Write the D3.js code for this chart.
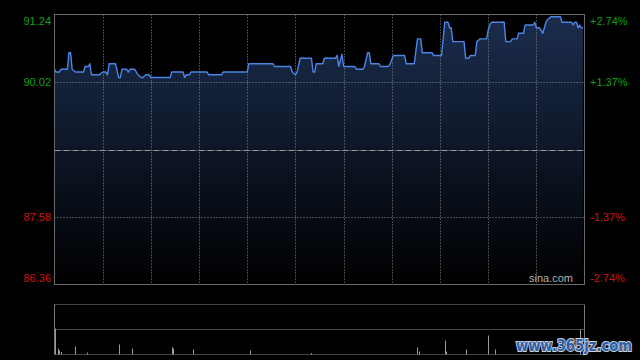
<!DOCTYPE html>
<html>
<head>
<meta charset="utf-8">
<script src="https://cdn.jsdelivr.net/npm/d3@7"></script>
<style>
  body { margin: 0; background: #000; }
  svg { display: block; font-family: 'Liberation Sans', Arial, sans-serif; }
</style>
</head>
<body>
<svg id="minute-chart" width="640" height="360"></svg>
<script>
// price axis: previous close in the middle, +-2.74% at the edges
const priceTicks = [91.24, 90.02, 88.8, 87.58, 86.36];
const priceLabels = ['91.24', '90.02', '', '87.58', '86.36'];
const pctLabels = ['+2.74%', '+1.37%', '', '-1.37%', '-2.74%'];
const prevClose = 88.8;

// minutes after open (lunch removed, 330 = close) and last price
const minutes = [0, 1, 3, 4, 8, 9, 10, 11, 13, 18, 19, 21, 22, 23, 28, 30, 32, 33, 34, 38,
  40, 41, 42, 45, 46, 47, 50, 52, 54, 55, 57, 59, 60, 72, 73, 80, 81, 82, 84, 85,
  95, 96, 104, 105, 120, 121, 136, 137, 147, 148, 150, 151, 153, 160, 161, 162, 163, 167, 168, 175,
  176, 177, 179, 180, 187, 188, 192, 193, 195, 196, 197, 202, 203, 208, 209, 211, 218, 219, 224, 226,
  228, 229, 235, 236, 241, 243, 245, 246, 247, 248, 255, 256, 258, 259, 262, 263, 265, 269, 270, 271,
  272, 280, 281, 284, 285, 288, 289, 292, 293, 298, 299, 300, 302, 304, 306, 307, 309, 315, 316, 322,
  323, 324, 325, 326, 327, 328, 329];
const prices = [90.25, 90.2, 90.2, 90.25, 90.25, 90.55, 90.55, 90.25, 90.2, 90.2, 90.3, 90.3, 90.35, 90.15, 90.15, 90.2, 90.2, 90.15, 90.35, 90.35,
  90.1, 90.1, 90.25, 90.25, 90.2, 90.25, 90.25, 90.15, 90.1, 90.1, 90.15, 90.15, 90.1, 90.1, 90.2, 90.2, 90.1, 90.15, 90.15, 90.2,
  90.2, 90.15, 90.15, 90.2, 90.2, 90.35, 90.35, 90.3, 90.3, 90.2, 90.15, 90.2, 90.45, 90.45, 90.2, 90.2, 90.35, 90.35, 90.45, 90.45,
  90.5, 90.3, 90.52, 90.3, 90.3, 90.25, 90.25, 90.3, 90.55, 90.55, 90.35, 90.35, 90.3, 90.3, 90.35, 90.5, 90.5, 90.35, 90.35, 90.8,
  90.8, 90.55, 90.55, 90.5, 90.5, 91.1, 91.1, 91.0, 91.0, 90.75, 90.75, 90.45, 90.45, 90.5, 90.5, 90.75, 90.8, 90.8, 90.95, 91.05,
  91.1, 91.1, 90.75, 90.75, 90.8, 90.8, 90.9, 90.9, 91.05, 91.05, 91.1, 91.0, 91.0, 90.9, 91.1, 91.15, 91.2, 91.2, 91.1, 91.1,
  91.05, 91.1, 91.1, 91.0, 91.05, 91.0, 91.0];

// volume (only the visible bars)
const volMinutes = [0, 2, 3, 4, 13, 20, 40, 48, 73, 74, 86, 122, 160, 226, 227, 243, 244, 256, 270, 274, 327];
const volValues = [52, 12, 8, 5, 16, 4, 20, 12, 14, 12, 10, 8, 3, 14, 6, 28, 6, 10, 38, 10, 50];
const volTop = 100;

const svg = d3.select('#minute-chart');
const plotLeft = 54.5, plotRight = 584.5;
const plotTop = 14.5, plotBottom = 284.5;
const volY0 = 304.5, volY1 = 354.5;

const x = d3.scaleLinear().domain([0, 330]).range([plotLeft, plotRight]);
const y = d3.scaleLinear().domain([priceTicks[4], priceTicks[0]]).range([plotBottom, plotTop]);
const yVol = d3.scaleLinear().domain([0, volTop]).range([volY1, volY0]);

const green = '#12a012';
const red = '#d01414';
const gridColor = '#8a8a8a';

const defs = svg.append('defs');
const grad = defs.append('linearGradient')
  .attr('id', 'area-fill')
  .attr('gradientUnits', 'userSpaceOnUse')
  .attr('x1', 0).attr('y1', plotTop).attr('x2', 0).attr('y2', plotBottom);
grad.append('stop').attr('offset', 0).attr('stop-color', '#1b2d4e');
grad.append('stop').attr('offset', 1).attr('stop-color', '#000');

// area under the price line
const area = d3.area()
  .x((d, i) => x(minutes[i]))
  .y0(plotBottom)
  .y1((d) => y(d));
svg.append('path')
  .attr('d', area(prices))
  .attr('fill', 'url(#area-fill)');

// grid
const halfHours = d3.range(30, 330, 30);
svg.append('g')
  .selectAll('line')
  .data(halfHours)
  .join('line')
  .attr('x1', (d) => Math.round(x(d)) + 0.5)
  .attr('x2', (d) => Math.round(x(d)) + 0.5)
  .attr('y1', plotTop)
  .attr('y2', plotBottom)
  .attr('stroke', gridColor)
  .attr('stroke-dasharray', '1,2');

svg.append('g')
  .selectAll('line')
  .data([priceTicks[1], priceTicks[3]])
  .join('line')
  .attr('x1', plotLeft)
  .attr('x2', plotRight)
  .attr('y1', (d) => Math.round(y(d)) + 0.5)
  .attr('y2', (d) => Math.round(y(d)) + 0.5)
  .attr('stroke', gridColor)
  .attr('stroke-dasharray', '1,2');

svg.append('line')
  .attr('x1', plotLeft)
  .attr('x2', plotRight)
  .attr('y1', Math.round(y(prevClose)) + 0.5)
  .attr('y2', Math.round(y(prevClose)) + 0.5)
  .attr('stroke', '#9a9a9a')
  .attr('stroke-dasharray', '6,1,1,1');

// price line
const line = d3.line()
  .x((d, i) => x(minutes[i]))
  .y((d) => y(d));
svg.append('path')
  .attr('d', line(prices))
  .attr('fill', 'none')
  .attr('stroke', '#4a86e8')
  .attr('stroke-width', 1.4)
  .attr('stroke-linejoin', 'round');

// frame
svg.append('rect')
  .attr('x', plotLeft)
  .attr('y', plotTop)
  .attr('width', plotRight - plotLeft)
  .attr('height', plotBottom - plotTop)
  .attr('fill', 'none')
  .attr('stroke', '#6a6a6a');

// axis labels
const labelColor = (d) => (d > prevClose ? green : red);
const labelDy = (i) => (i === 0 ? 10 : i === priceTicks.length - 1 ? -3 : 4);

svg.append('g')
  .selectAll('text')
  .data(priceTicks)
  .join('text')
  .attr('x', 51)
  .attr('y', (d, i) => y(d) + labelDy(i))
  .attr('text-anchor', 'end')
  .attr('font-size', 11)
  .attr('fill', labelColor)
  .text((d, i) => priceLabels[i]);

svg.append('g')
  .selectAll('text')
  .data(priceTicks)
  .join('text')
  .attr('x', 590)
  .attr('y', (d, i) => y(d) + labelDy(i))
  .attr('font-size', 11)
  .attr('fill', labelColor)
  .text((d, i) => pctLabels[i]);

svg.append('text')
  .attr('x', 573)
  .attr('y', 282)
  .attr('text-anchor', 'end')
  .attr('font-size', 11)
  .attr('fill', '#b0b0b0')
  .text('sina.com');

// volume panel
svg.append('g')
  .selectAll('line')
  .data([volY0, (volY0 + volY1) / 2, volY1])
  .join('line')
  .attr('x1', plotLeft)
  .attr('x2', plotRight)
  .attr('y1', (d) => d)
  .attr('y2', (d) => d)
  .attr('stroke', gridColor)
  .attr('stroke-dasharray', '1,1');

svg.append('g')
  .selectAll('line')
  .data([plotLeft, plotRight])
  .join('line')
  .attr('x1', (d) => d)
  .attr('x2', (d) => d)
  .attr('y1', volY0)
  .attr('y2', volY1)
  .attr('stroke', '#7a7a7a');

svg.append('g')
  .selectAll('rect')
  .data(volValues)
  .join('rect')
  .attr('x', (d, i) => Math.round(x(volMinutes[i])))
  .attr('y', (d) => yVol(d))
  .attr('width', 1)
  .attr('height', (d) => volY1 - yVol(d))
  .attr('fill', '#9a9a9a');

// site watermark
svg.append('text')
  .attr('x', 516)
  .attr('y', 351)
  .attr('font-family', 'DejaVu Sans')
  .attr('font-weight', 'bold')
  .attr('font-size', 15)
  .attr('textLength', 116)
  .attr('lengthAdjust', 'spacingAndGlyphs')
  .attr('fill', '#2f5fa6')
  .attr('stroke', '#c8d0dc')
  .attr('stroke-width', 2)
  .attr('paint-order', 'stroke')
  .text('www.365jz.com');
</script>
</body>
</html>
